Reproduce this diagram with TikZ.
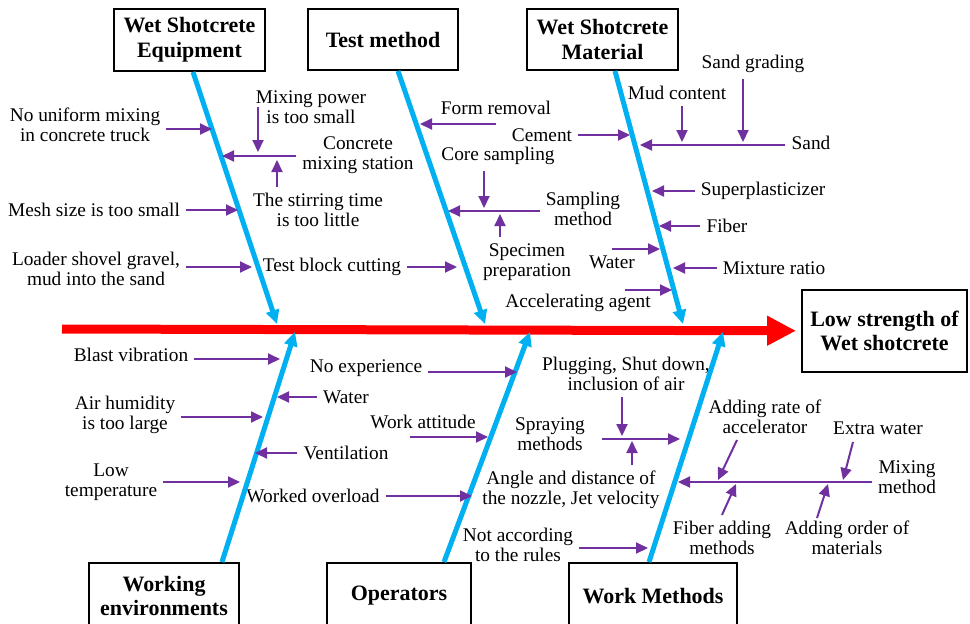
\documentclass[tikz,border=0pt]{standalone}
\usepackage{fontspec}
\setmainfont{Liberation Serif}
\usetikzlibrary{arrows.meta}

\definecolor{boneblue}{HTML}{00B0F0}
\definecolor{causeviolet}{HTML}{7030A0}
\definecolor{spinered}{HTML}{FF0000}

\begin{document}
\begin{tikzpicture}[x=0.02cm, y=-0.02cm, font=\fontsize{11}{11.5}\selectfont]
\useasboundingbox (0, 0) rectangle (970, 623);

\begin{scope}[every node/.style={draw, line width=1.1pt, align=center, inner sep=0pt,
                                 font=\fontsize{12.5}{14}\selectfont\bfseries}]
    \node (eqbox) at (189.5, 40) [minimum width=3.02cm, minimum height=1.24cm] {Wet Shotcrete\\Equipment};
    \node (tmbox) at (383, 39.5) [minimum width=3.0cm, minimum height=1.22cm] {Test method};
    \node (mtbox) at (602.5, 39.5) [minimum width=3.02cm, minimum height=1.22cm] {Wet Shotcrete\\Material};

    \node (effect) at (884.5, 331) [minimum width=3.3cm, minimum height=1.64cm] {Low strength of\\Wet shotcrete};

    \node (webox) at (164, 596) [minimum width=3.0cm, minimum height=1.32cm] {Working\\environments};
    \node (opbox) at (399, 596) [minimum width=2.88cm, minimum height=1.32cm] {Operators};
    \node (wmbox) at (653, 596) [minimum width=3.36cm, minimum height=1.32cm] {Work Methods};
\end{scope}

\begin{scope}[every node/.style={align=center}]
    \node (truck) at (85, 125) {No uniform mixing\\in concrete truck};
    \node (power) at (311, 107) {Mixing power\\is too small};
    \node (station) at (358, 155) {Concrete\\mixing station};
    \node (stir) at (318, 210) {The stirring time\\is too little};
    \node (mesh) at (94, 210) {Mesh size is too small};
    \node (loader) at (96, 269) {Loader shovel gravel,\\mud into the sand};

    \node (form) at (496, 108) {Form removal};
    \node (cutting) at (332, 267) {Test block cutting};
    \node (core) at (498, 156) {Core sampling};
    \node (sampling) at (583, 209) {Sampling\\method};
    \node (specimen) at (527, 262) {Specimen\\preparation};
    \node (water1) at (612, 262) {Water};
    \node (accel) at (578, 303) {Accelerating agent};

    \node (cement) at (542, 135) {Cement};
    \node (grading) at (753, 64) {Sand grading};
    \node (mud) at (677, 93) {Mud content};
    \node (sand) at (811, 143) {Sand};
    \node (superp) at (763, 191) {Superplasticizer};
    \node (fiber) at (727, 226) {Fiber};
    \node (ratio) at (774, 268) {Mixture ratio};

    \node (blast) at (131, 355) {Blast vibration};
    \node (water2) at (346, 397) {Water};
    \node (humid) at (125, 415) {Air humidity\\is too large};
    \node (vent) at (346, 453) {Ventilation};
    \node (lowtemp) at (111, 482) {Low\\temperature};
    \node (overload) at (313, 496) {Worked overload};

    \node (noexp) at (366, 368) {No experience};
    \node (attitude) at (423, 422) {Work attitude};
    \node (rules) at (518, 545) {Not according\\to the rules};

    \node (plug) at (626, 374) {Plugging, Shut down,\\inclusion of air};
    \node (spraying) at (550, 434) {Spraying\\methods};
    \node (angle) at (571, 490) {Angle and distance of\\the nozzle, Jet velocity};
    \node (rate) at (765, 417) {Adding rate of\\accelerator};
    \node (extra) at (878, 428) {Extra water};
    \node (mixing) at (907, 477) {Mixing\\method};
    \node (fibadd) at (722, 538) {Fiber adding\\methods};
    \node (order) at (847, 538) {Adding order of\\materials};
\end{scope}

\coordinate (spine) at (62, 329);
\coordinate (b1e) at (277, 324);
\coordinate (b2e) at (485, 324);
\coordinate (b3e) at (683, 324);
\coordinate (b4e) at (295, 332);
\coordinate (b5e) at (530, 332);
\coordinate (b6e) at (723, 332);

\coordinate (q1) at (212, 129);
\coordinate (q2) at (222, 156);
\coordinate (q2a) at (258, 152);
\coordinate (q2b) at (277, 160);
\coordinate (q3) at (238, 210);
\coordinate (q4) at (252, 267);
\coordinate (q5) at (420, 124);
\coordinate (q6) at (457, 267);
\coordinate (q7) at (448, 211);
\coordinate (q7a) at (484, 208);
\coordinate (q7b) at (500, 214);
\coordinate (q8) at (660, 249);
\coordinate (a9) at (625, 290);
\coordinate (q9) at (672, 290);
\coordinate (q10) at (630, 135);
\coordinate (q11) at (640, 145);
\coordinate (q11a) at (743, 142);
\coordinate (q11b) at (682, 142);
\coordinate (q12) at (652, 191);
\coordinate (q13) at (659, 226);
\coordinate (q14) at (673, 268);
\coordinate (q15) at (280, 359);
\coordinate (q16) at (277, 397);
\coordinate (q17) at (263, 417);
\coordinate (q18) at (255, 453);
\coordinate (q19) at (240, 482);
\coordinate (q20) at (472, 496);
\coordinate (q21) at (517, 372);
\coordinate (a22) at (410, 437);
\coordinate (q22) at (488, 437);
\coordinate (q23) at (648, 548);
\coordinate (a24) at (602, 439);
\coordinate (q24) at (680, 439);
\coordinate (q24a) at (622, 436);
\coordinate (q24b) at (632, 441);
\coordinate (q25) at (678, 482);
\coordinate (a25a) at (737, 440);
\coordinate (q25a) at (718, 480);
\coordinate (a25b) at (853, 442);
\coordinate (q25b) at (843, 480);
\coordinate (q25c) at (736, 484);
\coordinate (a25d) at (817, 518);
\coordinate (q25d) at (828, 484);

\begin{scope}[every edge/.style={draw=spinered, line width=0.18cm}]
    \path [-{Triangle[length=0.58cm, width=0.56cm]}, shorten >=0.1cm] (spine) edge (effect);
\end{scope}

\begin{scope}[>={Triangle[length=0.28cm, width=0.26cm]},
              every edge/.style={draw=boneblue, line width=0.1cm}]
    \path [->] ([xshift=0.07cm]eqbox.south) edge (b1e);
    \path [->] ([xshift=0.3cm]tmbox.south) edge (b2e);
    \path [->] ([xshift=0.25cm]mtbox.south) edge (b3e);

    \path [->] ([xshift=1.16cm]webox.north) edge (b4e);
    \path [->] ([xshift=0.9cm]opbox.north) edge (b5e);
    \path [->] ([xshift=-0.08cm]wmbox.north) edge (b6e);
\end{scope}

\begin{scope}[>={Triangle[length=0.24cm, width=0.22cm]},
              every edge/.style={draw=causeviolet, line width=0.04cm}]
    \path [->] (truck.east |- q1) edge (q1);
    \path [->] (station.west |- q2) edge (q2);
    \path [->] (q2a |- power) edge (q2a);
    \path [->] (q2b |- stir.north) edge (q2b);
    \path [->] (mesh.east |- q3) edge (q3);
    \path [->] (loader.east |- q4) edge (q4);

    \path [->] (form |- q5) edge (q5);
    \path [->] (cutting.east |- q6) edge (q6);
    \path [->] (sampling.west |- q7) edge (q7);
    \path [->] (q7a |- core.south) edge (q7a);
    \path [->] (q7b |- specimen.north) edge (q7b);
    \path [->] (water1 |- q8) edge (q8);
    \path [->] (a9) edge (q9);

    \path [->] (cement.east |- q10) edge (q10);
    \path [->] (sand.west |- q11) edge (q11);
    \path [->] (q11a |- grading.south) edge (q11a);
    \path [->] (q11b |- mud.south) edge (q11b);
    \path [->] (superp.west |- q12) edge (q12);
    \path [->] (fiber.west |- q13) edge (q13);
    \path [->] (ratio.west |- q14) edge (q14);

    \path [->] (blast.east |- q15) edge (q15);
    \path [->] (water2.west |- q16) edge (q16);
    \path [->] (humid.east |- q17) edge (q17);
    \path [->] (vent.west |- q18) edge (q18);
    \path [->] (lowtemp.east |- q19) edge (q19);
    \path [->] (overload.east |- q20) edge (q20);

    \path [->] (noexp.east |- q21) edge (q21);
    \path [->] (a22) edge (q22);
    \path [->] (rules.east |- q23) edge (q23);

    \path [->] (a24) edge (q24);
    \path [->] (q24a |- plug.south) edge (q24a);
    \path [->] (q24b |- angle.north) edge (q24b);
    \path [->] (mixing.west |- q25) edge (q25);
    \path [->] (a25a) edge (q25a);
    \path [->] (a25b) edge (q25b);
    \path [->] (fibadd.north) edge (q25c);
    \path [->] (a25d) edge (q25d);
\end{scope}
\end{tikzpicture}
\end{document}
